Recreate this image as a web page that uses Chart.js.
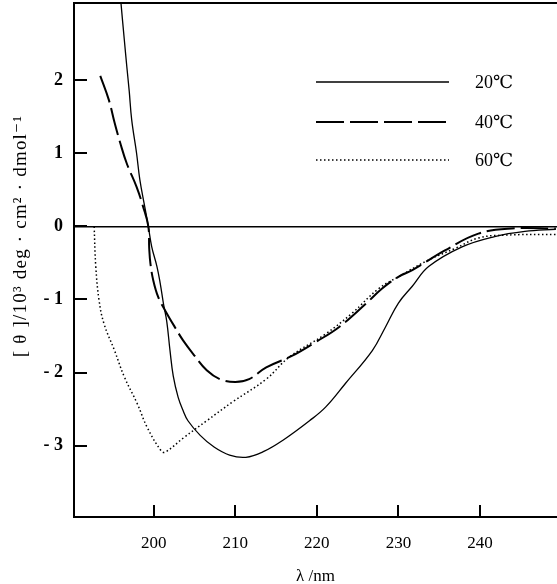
<!DOCTYPE html>
<html>
<head>
<meta charset="utf-8">
<script src="https://cdn.jsdelivr.net/npm/chart.js@4.4.0/dist/chart.umd.min.js"></script>
<style>
    html, body { margin: 0; padding: 0; background: #fff; }
    canvas { display: block; }
</style>
</head>
<body>
<canvas id="cdChart" width="557" height="584"></canvas>
<script>
// SERIES LABELS
var seriesLabels = ["20℃", "40℃", "60℃"];

// 20 C (wavelength nm / ellipticity)
var wl20 = [195.8, 196.0, 196.4, 196.7, 197.0, 197.3, 197.9, 198.3, 198.9, 199.34, 199.76, 200.4, 200.8, 201.2, 201.6, 202.0, 202.4, 203.0, 203.6, 204.2, 205.7, 207.4, 209.3, 211.3, 213.5, 215.8, 219.1, 221.1, 223.5, 226.8, 228.4, 230.0, 231.7, 233.7, 237.8, 241.8, 245.5, 249.3];
var cd20 = [3.3, 3.04, 2.55, 2.19, 1.85, 1.46, 1.0, 0.64, 0.27, 0.0, -0.28, -0.55, -0.78, -1.06, -1.30, -1.70, -2.05, -2.34, -2.52, -2.66, -2.86, -3.02, -3.13, -3.16, -3.08, -2.93, -2.66, -2.47, -2.15, -1.70, -1.38, -1.05, -0.82, -0.55, -0.28, -0.14, -0.07, -0.04];

// 40 C
var wl40 = [193.45, 194.5, 195.2, 195.9, 196.7, 197.9, 198.7, 199.34, 199.45, 199.6, 199.95, 200.56, 201.4, 202.6, 203.6, 204.8, 206.5, 208.1, 210.0, 211.7, 213.8, 217.0, 219.9, 222.7, 226.0, 228.0, 230.0, 231.7, 235.7, 239.8, 243.9, 249.3];
var cd40 = [2.06, 1.73, 1.42, 1.14, 0.86, 0.54, 0.27, 0.0, -0.30, -0.51, -0.74, -0.97, -1.15, -1.38, -1.56, -1.74, -1.97, -2.09, -2.13, -2.09, -1.93, -1.77, -1.58, -1.38, -1.06, -0.85, -0.69, -0.60, -0.33, -0.10, -0.03, -0.03];

// 60 C
var wl60 = [192.7, 192.9, 193.3, 193.9, 195.2, 196.4, 198.0, 199.2, 200.9, 201.4, 203.7, 206.5, 209.7, 213.8, 216.6, 221.1, 224.3, 227.6, 230.0, 233.7, 237.0, 239.8, 243.0, 249.3];
var cd60 = [0.0, -0.55, -1.01, -1.33, -1.70, -2.06, -2.43, -2.75, -3.07, -3.09, -2.89, -2.66, -2.40, -2.09, -1.79, -1.47, -1.19, -0.85, -0.69, -0.46, -0.30, -0.16, -0.12, -0.11];

// TICKS
var xTicks = [200, 210, 220, 230, 240];
var yTicks = [-3, -2, -1, 0, 1, 2];

var yTitle = "[ θ ]/10³ deg · cm² · dmol⁻¹";
var xTitle = "λ /nm";

var serif = "'Liberation Serif', 'DejaVu Serif', serif";

function toPoints(xs, ys) {
    var pts = [];
    for (var i = 0; i < xs.length; i++) {
        pts.push({ x: xs[i], y: ys[i] });
    }
    return pts;
}

// INWARD TICKS, TOP FRAME, Y TITLE, LEGEND
var decorPlugin = {
    id: 'decor',
    afterDraw: function(chart) {
        var ctx = chart.ctx;
        var area = chart.chartArea;
        var xs = chart.scales.x;
        var ys = chart.scales.y;

        ctx.save();
        ctx.strokeStyle = "#000";
        ctx.lineWidth = 2;

        // top frame line
        ctx.beginPath();
        ctx.moveTo(area.left - 1, area.top);
        ctx.lineTo(area.right, area.top);
        ctx.stroke();

        // inward ticks
        for (var a = 0; a < yTicks.length; a++) {
            var py = Math.round(ys.getPixelForValue(yTicks[a]));
            ctx.beginPath();
            ctx.moveTo(area.left, py);
            ctx.lineTo(area.left + 13, py);
            ctx.stroke();
        }
        for (var b = 0; b < xTicks.length; b++) {
            var px = Math.round(xs.getPixelForValue(xTicks[b]));
            ctx.beginPath();
            ctx.moveTo(px, area.bottom);
            ctx.lineTo(px, area.bottom - 12);
            ctx.stroke();
        }

        // y axis title
        ctx.fillStyle = "#000";
        ctx.font = "19px " + serif;
        ctx.textAlign = "center";
        ctx.textBaseline = "middle";
        var w = ctx.measureText(yTitle).width;
        if ('letterSpacing' in ctx && w < 272) {
            ctx.letterSpacing = Math.min((272 - w) / yTitle.length, 1.2).toFixed(2) + "px";
        }
        ctx.translate(21, 236);
        ctx.rotate(-Math.PI / 2);
        ctx.fillText(yTitle, 0, 0);
        ctx.restore();

        // legend
        var rows = [82, 122, 160];
        ctx.save();
        ctx.font = "18px " + serif;
        ctx.textBaseline = "middle";
        ctx.textAlign = "left";
        ctx.fillStyle = "#000";
        for (var i = 0; i < chart.data.datasets.length; i++) {
            var ds = chart.data.datasets[i];
            ctx.strokeStyle = ds.borderColor;
            ctx.lineWidth = ds.borderWidth;
            ctx.setLineDash(ds.borderDash || []);
            ctx.beginPath();
            ctx.moveTo(316, rows[i]);
            ctx.lineTo(449, rows[i]);
            ctx.stroke();
            ctx.fillText(ds.label, 475, rows[i] + 1);
        }
        ctx.restore();
    }
};

var ctx = document.getElementById("cdChart").getContext('2d');
var cdChart = new Chart(ctx, {
    type: 'line',
    data: {
        datasets: [{
            label: seriesLabels[0],
            data: toPoints(wl20, cd20),
            borderColor: "#000",
            borderWidth: 1.3
        }, {
            label: seriesLabels[1],
            data: toPoints(wl40, cd40),
            borderColor: "#000",
            borderWidth: 2,
            borderDash: [28, 6]
        }, {
            label: seriesLabels[2],
            data: toPoints(wl60, cd60),
            borderColor: "#000",
            borderWidth: 1.5,
            borderDash: [1.5, 2.5]
        }]
    },
    options: {
        responsive: false,
        animation: false,
        devicePixelRatio: 1,
        layout: { padding: { top: 3, right: 0, left: 0, bottom: 0 } },
        elements: {
            point: { radius: 0 },
            line: { tension: 0.4, fill: false }
        },
        plugins: {
            legend: { display: false },
            tooltip: { enabled: false }
        },
        scales: {
            x: {
                type: 'linear',
                min: 190.23,
                max: 249.44,
                afterBuildTicks: function(scale) {
                    scale.ticks = xTicks.map(function(v) { return { value: v }; });
                },
                afterFit: function(scale) {
                    scale.height = 67;
                    scale.paddingLeft = 0;
                    scale.paddingRight = 0;
                },
                grid: { display: true, drawOnChartArea: false, drawTicks: false },
                border: { display: true, color: "#000", width: 2 },
                ticks: {
                    color: "#000",
                    padding: 16,
                    maxRotation: 0,
                    font: { family: serif, size: 17 }
                },
                title: {
                    display: true,
                    text: xTitle,
                    color: "#000",
                    font: { family: serif, size: 17, lineHeight: 1 },
                    padding: { top: 0, bottom: -1 }
                }
            },
            y: {
                min: -3.977,
                max: 3.056,
                afterBuildTicks: function(scale) {
                    scale.ticks = yTicks.map(function(v) { return { value: v }; });
                },
                afterFit: function(scale) {
                    scale.width = 74;
                    scale.paddingTop = 0;
                    scale.paddingBottom = 0;
                },
                grid: {
                    drawTicks: false,
                    color: function(c) { return c.tick && c.tick.value === 0 ? "#000" : "rgba(0,0,0,0)"; },
                    lineWidth: function(c) { return c.tick && c.tick.value === 0 ? 1.6 : 0; }
                },
                border: { display: true, color: "#000", width: 2 },
                ticks: {
                    color: "#000",
                    padding: 11,
                    font: { family: serif, size: 18, weight: 'bold' },
                    callback: function(v) { return v < 0 ? "- " + Math.abs(v) : String(v); }
                }
            }
        }
    },
    plugins: [decorPlugin]
});
</script>
</body>
</html>
